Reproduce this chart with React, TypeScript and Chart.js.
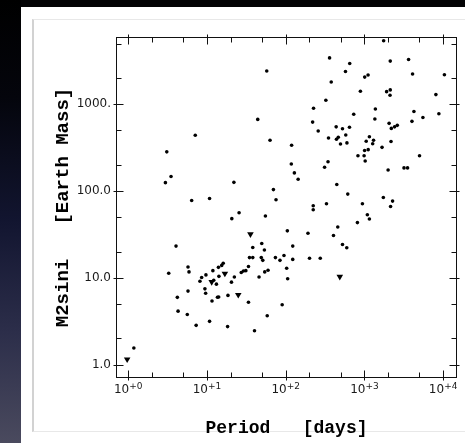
import React, { useEffect, useRef } from "react";
import { Chart, registerables } from "chart.js";

Chart.register(...registerables);

// Planet detections: orbital period [days] and minimum mass M2 sin i [Earth masses]
const periodDays = [
  1.18, 3.09, 3.5, 2.97, 7.11, 57.5, 44.2, 63.3, 22.0, 69.9,
  75.4, 6.4, 10.8, 25.6, 20.7, 55.3, 4.05, 49.7, 38.2, 53.7,
  34.7, 38.2, 49.0, 51.2, 74.1, 84.7, 95.2, 103, 106, 16.1,
  15.4, 14.0, 5.75, 5.92, 11.9, 9.71, 8.57, 8.15, 14.2, 12.2,
  13.2, 22.3, 20.5, 27.3, 29.1, 31.2, 33.7, 54.2, 59.7, 45.9,
  3.27, 4.21, 5.75, 9.43, 9.63, 13.6, 14.1, 11.6, 18.5, 33.7,
  90.3, 4.3, 5.63, 58.3, 7.3, 10.8, 18.3, 40.2, 129, 144,
  446, 615, 1740, 2280, 2150, 224, 224, 330, 944, 1090,
  1157, 815, 459, 405, 105, 192, 123, 527, 597, 123,
  201, 275, 1755, 361, 651, 2130, 3640, 575, 1009, 1113,
  4090, 10380, 379, 890, 1915, 2130, 2115, 8090, 324, 226,
  1378, 4256, 8830, 732, 1358, 5535, 220, 2060, 4017, 259,
  438, 527, 646, 2197, 2419, 2616, 580, 350, 442, 466,
  1157, 1054, 1307, 1274, 2178, 497, 600, 119, 1675, 1006,
  1117, 828, 991, 5012, 345, 1023, 118, 312, 3184, 3532,
  2000,
];
const massEarth = [
  1.55, 283, 147, 125, 440, 2420, 670, 385, 126, 104,
  79.3, 77.9, 82.1, 56.3, 48.1, 51.6, 23.2, 24.9, 22.4, 20.9,
  17.1, 17.1, 17.1, 15.9, 17.1, 15.9, 18.1, 12.9, 9.77, 14.7,
  13.9, 13.2, 13.3, 11.7, 12.1, 10.8, 10.1, 9.14, 10.4, 9.39,
  8.45, 10.2, 8.91, 11.5, 12.0, 12.1, 13.5, 11.7, 12.2, 10.2,
  11.3, 5.95, 7.03, 7.46, 6.63, 5.97, 6.0, 5.4, 6.27, 5.23,
  4.9, 4.13, 3.78, 3.66, 2.83, 3.15, 2.74, 2.45, 162, 137,
  119, 92.2, 84.3, 76.6, 66.5, 67.7, 61.0, 71.4, 71.4, 53.4,
  47.7, 43.3, 38.6, 30.7, 34.8, 32.6, 23.2, 24.2, 22.2, 16.3,
  16.8, 16.8, 5410, 3430, 2950, 3150, 3280, 2390, 2060, 2175,
  2233, 2193, 1808, 1413, 1400, 1466, 1271, 1295, 1114, 902,
  884, 827, 779, 769, 676, 706, 624, 603, 636, 492,
  550, 522, 543, 528, 550, 572, 443, 409, 396, 417,
  423, 375, 385, 351, 373, 349, 359, 338, 319, 294,
  300, 255, 255, 255, 218, 222, 205, 188, 185, 185,
  175,
];

// Upper limits (downward triangles)
const limitPeriodDays = [0.97, 35.7, 16.9, 11.5, 25.0, 487];
const limitMassEarth = [1.15, 31.8, 11.2, 8.98, 6.37, 10.3];

// Axes
const xRange = [0.726, 15000];
const yRange = [0.743, 5970];
const xMajorTicks = [1, 10, 100, 1000, 10000];
const xTickExponents = ["+0", "+1", "+2", "+3", "+4"];
const xMinorTicks = [2, 5, 20, 50, 200, 500, 2000, 5000];
const yMajorTicks = [1, 10, 100, 1000];
const yTickLabels = ["1.0", "10.0", "100.0", "1000."];
const yMinorTicks = [2, 5, 20, 50, 200, 500, 2000, 5000];

const xTitle = "Period   [days]";
const yTitle = "M2sini   [Earth Mass]";

const titleFamily = "'Liberation Mono', 'Courier New', monospace";
const tickFamily = "'DejaVu Sans', 'Liberation Sans', sans-serif";

const framePlugin = {
  id: "frameTicks",
  beforeDatasetsDraw(chart: any) {
    const { ctx, chartArea: a, scales } = chart;
    const xs = scales.x;
    const ys = scales.y;
    const L = Math.round(a.left) + 0.5;
    const R = Math.round(a.right) - 0.5;
    const T = Math.round(a.top) + 0.5;
    const B = Math.round(a.bottom) - 0.5;
    ctx.save();
    ctx.strokeStyle = "#111";
    ctx.lineWidth = 1;
    ctx.strokeRect(L, T, R - L, B - T);
    ctx.beginPath();
    const px = (v: number) => Math.round(xs.getPixelForValue(v)) + 0.5;
    const py = (v: number) => Math.round(ys.getPixelForValue(v)) + 0.5;
    xMajorTicks.forEach((v) => {
      const x = px(v);
      ctx.moveTo(x, B + 3); ctx.lineTo(x, B - 7);
      ctx.moveTo(x, T - 3); ctx.lineTo(x, T + 7);
    });
    xMinorTicks.forEach((v) => {
      const x = px(v);
      ctx.moveTo(x, B); ctx.lineTo(x, B - 5);
      ctx.moveTo(x, T); ctx.lineTo(x, T + 5);
    });
    yMajorTicks.forEach((v) => {
      const y = py(v);
      ctx.moveTo(L - 3, y); ctx.lineTo(L + 7, y);
      ctx.moveTo(R + 3, y); ctx.lineTo(R - 7, y);
    });
    yMinorTicks.forEach((v) => {
      const y = py(v);
      ctx.moveTo(L, y); ctx.lineTo(L + 5, y);
      ctx.moveTo(R, y); ctx.lineTo(R - 5, y);
    });
    ctx.stroke();

    // y tick labels
    ctx.fillStyle = "#1a1a1a";
    ctx.font = `12px ${tickFamily}`;
    ctx.textAlign = "right";
    ctx.textBaseline = "middle";
    yMajorTicks.forEach((v, i) => {
      ctx.fillText(yTickLabels[i], a.left - 5, ys.getPixelForValue(v));
    });

    // x tick labels: 10 with superscript exponent
    ctx.textAlign = "left";
    ctx.textBaseline = "alphabetic";
    const baseY = B + 15.5;
    xMajorTicks.forEach((v, i) => {
      const x = xs.getPixelForValue(v);
      ctx.font = `12px ${tickFamily}`;
      const w1 = ctx.measureText("10").width;
      ctx.font = `9px ${tickFamily}`;
      const w2 = ctx.measureText(xTickExponents[i]).width;
      const start = x - (w1 + w2) / 2;
      ctx.font = `12px ${tickFamily}`;
      ctx.fillText("10", start, baseY);
      ctx.font = `9px ${tickFamily}`;
      ctx.fillText(xTickExponents[i], start + w1, baseY - 4);
    });
    ctx.restore();
  },
};

export default function App() {
  const canvasRef = useRef<HTMLCanvasElement | null>(null);

  useEffect(() => {
    const canvas = canvasRef.current;
    if (!canvas) return;
    const chart = new Chart(canvas, {
      type: "scatter",
      data: {
        datasets: [
          {
            label: "Planets",
            data: periodDays.map((p, i) => ({ x: p, y: massEarth[i] })),
            pointRadius: 1.8,
            pointHoverRadius: 1.8,
            pointBackgroundColor: "#000",
            pointBorderWidth: 0,
          },
          {
            label: "Upper limits",
            data: limitPeriodDays.map((p, i) => ({ x: p, y: limitMassEarth[i] })),
            pointStyle: "triangle",
            pointRotation: 180,
            pointRadius: 3.8,
            pointHoverRadius: 3.8,
            pointBackgroundColor: "#000",
            pointBorderWidth: 0,
          },
        ],
      },
      options: {
        animation: false,
        responsive: false,
        devicePixelRatio: 1,
        events: [],
        layout: { padding: { left: 0, top: 37, right: 8, bottom: 0 } },
        plugins: { legend: { display: false }, tooltip: { enabled: false } },
        scales: {
          x: {
            type: "logarithmic",
            min: xRange[0],
            max: xRange[1],
            grid: { display: false },
            border: { display: false },
            ticks: { display: false },
            title: {
              display: true,
              text: xTitle,
              color: "#000",
              font: { family: titleFamily, size: 18, weight: "bold" },
              padding: { top: 0, bottom: 4 },
            },
            afterFit: (s: any) => {
              s.height = 65;
            },
          },
          y: {
            type: "logarithmic",
            min: yRange[0],
            max: yRange[1],
            grid: { display: false },
            border: { display: false },
            ticks: { display: false },
            title: {
              display: true,
              text: yTitle,
              color: "#000",
              font: { family: titleFamily, size: 19, weight: "bold" },
              padding: { top: 52, bottom: 0 },
            },
            afterFit: (s: any) => {
              s.width = 116;
            },
          },
        },
      } as any,
      plugins: [framePlugin],
    });
    return () => chart.destroy();
  }, []);

  return (
    <div
      style={{
        position: "fixed",
        left: 0,
        top: 0,
        width: 465,
        height: 443,
        overflow: "hidden",
        background: "#030304",
      }}
    >
      <div
        style={{
          position: "absolute",
          left: 0,
          top: 0,
          width: 21,
          height: 443,
          background:
            "linear-gradient(to bottom, #000000 0%, #04050c 22%, #121530 50%, #2c2e4a 75%, #4a4a5e 100%)",
        }}
      />
      <div
        style={{
          position: "absolute",
          left: 21,
          top: 7,
          width: 444,
          height: 436,
          background: "#ffffff",
        }}
      />
      <div
        style={{
          position: "absolute",
          left: 32,
          top: 19,
          width: 480,
          height: 413,
          boxSizing: "border-box",
          borderLeft: "2px solid #d2d2d2",
          borderTop: "1px solid #e8e8e8",
          borderBottom: "1px solid #e8e8e8",
        }}
      />
      <canvas
        ref={canvasRef}
        width={465}
        height={443}
        style={{ position: "absolute", left: 0, top: 0, width: 465, height: 443 }}
      />
    </div>
  );
}
